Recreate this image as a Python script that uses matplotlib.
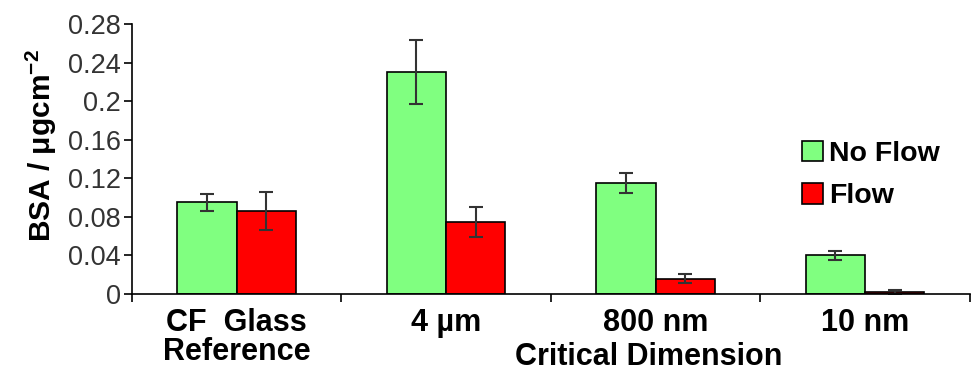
import numpy as np
import matplotlib
matplotlib.use("Agg")
import matplotlib.pyplot as plt

plt.rcParams['font.family'] = ['Liberation Sans', 'DejaVu Sans']
plt.rcParams['mathtext.fontset'] = 'custom'
plt.rcParams['mathtext.rm'] = 'Liberation Sans'
plt.rcParams['mathtext.bf'] = 'Liberation Sans:bold'

categories = ['CF  Glass\nReference', '4 \u00b5m', '800 nm', '10 nm']
no_flow = [0.095, 0.230, 0.115, 0.040]
no_flow_err = [0.0087, 0.033, 0.010, 0.005]
flow = [0.086, 0.075, 0.016, 0.002]
flow_err = [0.0195, 0.0155, 0.005, 0.002]
yticks = [0, 0.04, 0.08, 0.12, 0.16, 0.2, 0.24, 0.28]
ytick_labels = ['0', '0.04', '0.08', '0.12', '0.16', '0.2', '0.24', '0.28']

fig = plt.figure(figsize=(9.74, 3.73), dpi=100)
ax = fig.add_axes([0.1355, 0.2118, 0.86, 0.7239])

x = np.arange(len(categories))
w = 0.283
ax.bar(x - w/2, no_flow, w, color='#80ff80', edgecolor='black', linewidth=1.2,
       yerr=no_flow_err, error_kw=dict(ecolor='#333333', elinewidth=1.5, capsize=5, capthick=1.5),
       label='No Flow')
ax.bar(x + w/2, flow, w, color='#ff0000', edgecolor='black', linewidth=1.2,
       yerr=flow_err, error_kw=dict(ecolor='#333333', elinewidth=1.5, capsize=5, capthick=1.5),
       label='Flow')

ax.set_xlim(-0.5, len(categories) - 0.5)
ax.set_ylim(0, 0.28)
ax.set_yticks(yticks)
ax.set_yticklabels(ytick_labels, fontsize=19.5, color='#333333')
ax.set_xticks(x)
ax.set_xticklabels(categories, fontsize=22, fontweight='bold', linespacing=0.95)
ax.set_xticks(np.arange(len(categories) + 1) - 0.5, minor=True)
ax.tick_params(axis='x', which='major', length=0, pad=10)
ax.tick_params(axis='x', which='minor', length=6, width=1.2, direction='out')
ax.tick_params(axis='y', length=6, width=1.2, direction='out', pad=2)

for s in ['top', 'right']:
    ax.spines[s].set_visible(False)
for s in ['left', 'bottom']:
    ax.spines[s].set_linewidth(1.2)

fig.text(0.042, 0.611, r'BSA / $\mathbf{\mu}$gcm$^{\mathbf{-2}}$', rotation=90,
         fontsize=21.5, fontweight='bold', ha='center', va='center')
fig.text(0.666, 0.0214, 'Critical Dimension', fontsize=22, fontweight='bold',
         ha='center', va='baseline')

ax.legend(loc='upper left', bbox_to_anchor=(0.80, 0.568), frameon=False,
          prop=dict(weight='bold', size=20.5), handlelength=0.72,
          handleheight=0.72, handletextpad=0.22, labelspacing=0.58, borderaxespad=0,
          borderpad=0)

fig.savefig('out.png', dpi=100)
